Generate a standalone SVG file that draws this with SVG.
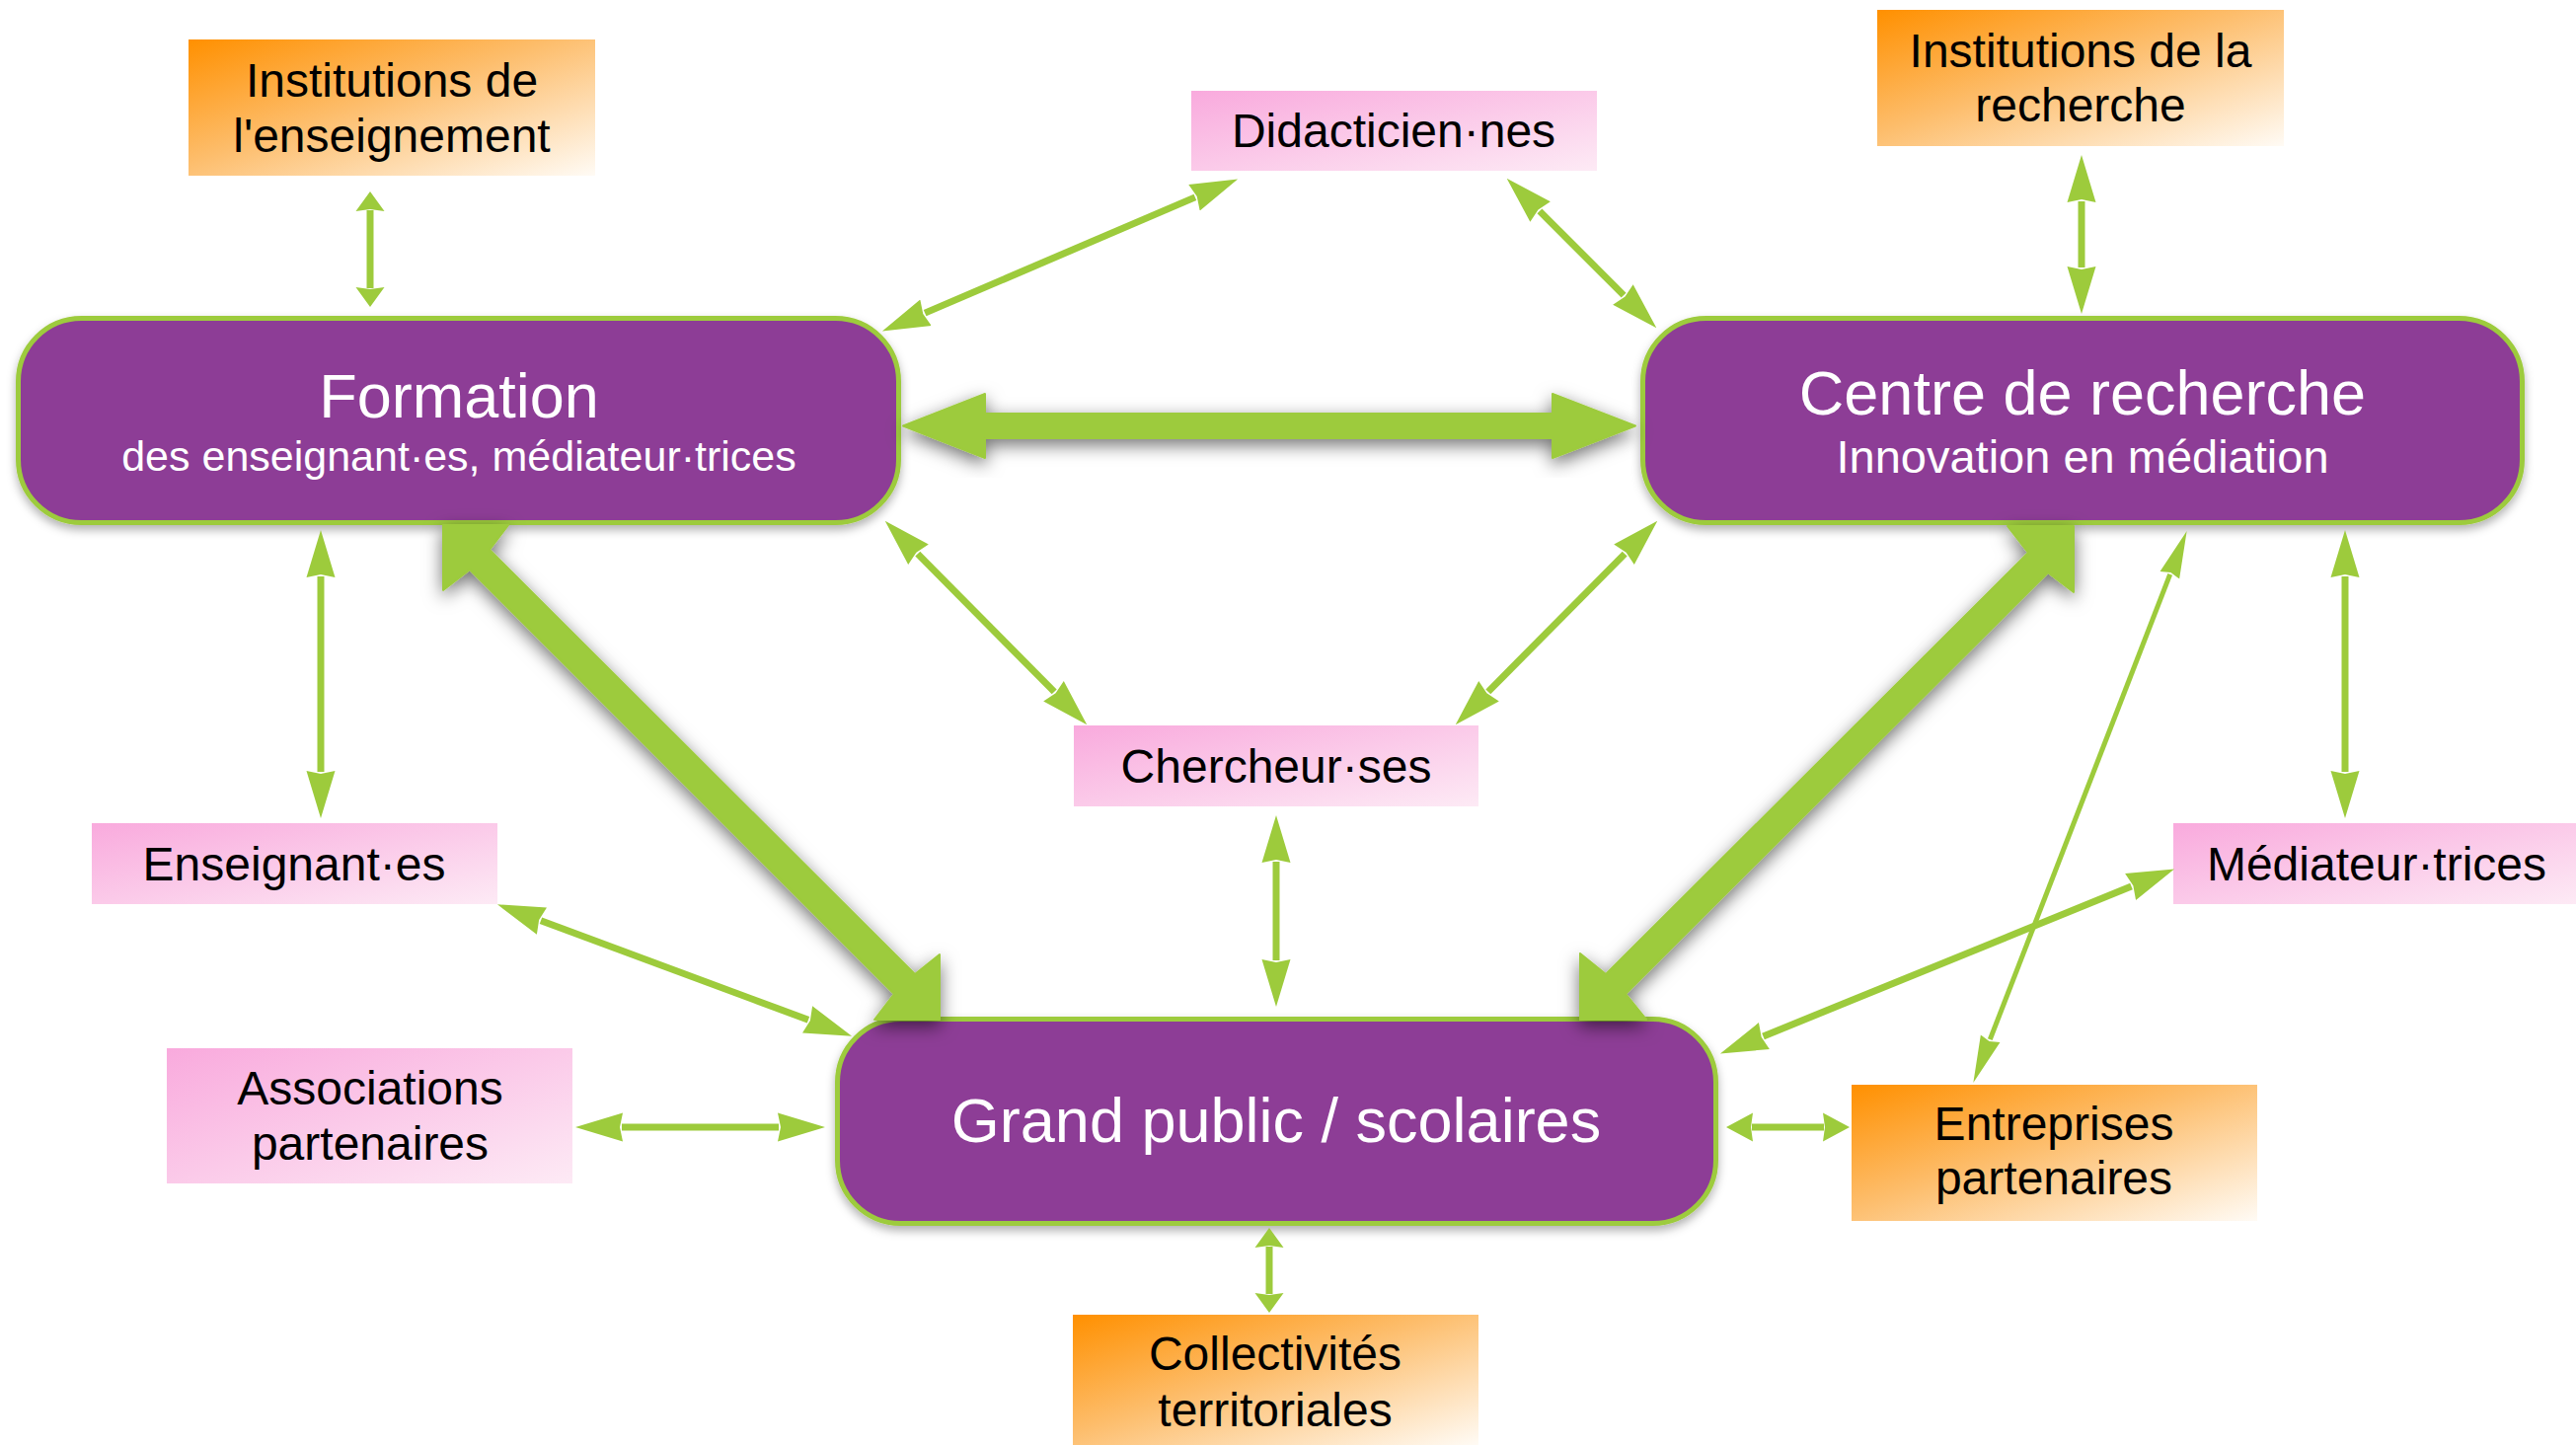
<svg xmlns="http://www.w3.org/2000/svg" width="2610" height="1464" viewBox="0 0 2610 1464">
<defs>
<style>
.lbl{font-family:"Liberation Sans",Arial,sans-serif;font-size:48px;fill:#000;text-anchor:middle}
.ttl{font-family:"Liberation Sans",Arial,sans-serif;font-size:63px;fill:#fff;text-anchor:middle}
.sub{font-family:"Liberation Sans",Arial,sans-serif;fill:#fff;text-anchor:middle}
.main{fill:#8D3D96;stroke:#9DCB3C;stroke-width:5;filter:url(#bs)}
.pink{fill:url(#gp)}
.orange{fill:url(#go)}
.thin{fill:none;stroke:#9DCB3C;stroke-width:7;marker-start:url(#ah);marker-end:url(#ah)}
.short{fill:none;stroke:#9DCB3C;stroke-width:7;marker-start:url(#as);marker-end:url(#as)}
.mid{fill:none;stroke:#9DCB3C;stroke-width:7;marker-start:url(#am);marker-end:url(#am)}
.fine{fill:none;stroke:#9DCB3C;stroke-width:5;marker-start:url(#af);marker-end:url(#af)}
.thick{fill:#9DCB3C;stroke:#9DCB3C;stroke-width:2;stroke-linejoin:round;filter:url(#ts)}
</style>
<linearGradient id="gp" x1="0" y1="0" x2="1" y2="1">
<stop offset="0" stop-color="#F9AADD"/>
<stop offset="1" stop-color="#FDEAF5"/>
</linearGradient>
<linearGradient id="go" x1="0" y1="0" x2="1" y2="1">
<stop offset="0" stop-color="#FF9000"/>
<stop offset="0.45" stop-color="#FDBD6B"/>
<stop offset="1" stop-color="#FFFBF5"/>
</linearGradient>
<filter id="bs" x="-10%" y="-20%" width="120%" height="150%">
<feDropShadow dx="0" dy="5" stdDeviation="5" flood-color="#000" flood-opacity="0.3"/>
</filter>
<filter id="ts" x="-30%" y="-30%" width="160%" height="160%">
<feGaussianBlur in="SourceAlpha" stdDeviation="9"/>
<feOffset dx="0" dy="6" result="b"/>
<feFlood flood-color="#000" flood-opacity="0.55"/>
<feComposite in2="b" operator="in"/>
<feMerge><feMergeNode/><feMergeNode in="SourceGraphic"/></feMerge>
</filter>
<marker id="ah" viewBox="0 0 48 30" refX="1" refY="15" markerWidth="48" markerHeight="30" orient="auto-start-reverse" markerUnits="userSpaceOnUse">
<path d="M0,0.5 L48,15 L0,29.5 L3,15 Z" fill="#9DCB3C"/>
</marker>
<marker id="as" viewBox="0 0 20 30" refX="1" refY="15" markerWidth="20" markerHeight="30" orient="auto-start-reverse" markerUnits="userSpaceOnUse">
<path d="M0,0.5 L20,15 L0,29.5 L2,15 Z" fill="#9DCB3C"/>
</marker>
<marker id="am" viewBox="0 0 27 30" refX="1" refY="15" markerWidth="27" markerHeight="30" orient="auto-start-reverse" markerUnits="userSpaceOnUse">
<path d="M0,0.5 L27,15 L0,29.5 L2,15 Z" fill="#9DCB3C"/>
</marker>
<marker id="af" viewBox="0 0 48 22" refX="1" refY="11" markerWidth="48" markerHeight="22" orient="auto-start-reverse" markerUnits="userSpaceOnUse">
<path d="M0,0.5 L48,11 L0,21.5 L3,11 Z" fill="#9DCB3C"/>
</marker>
</defs>
<rect width="2610" height="1464" fill="#fff"/>

<g id="inst-enseignement">
<rect class="orange" x="191" y="40" width="412" height="138"/>
<text class="lbl" x="397" y="98">Institutions de</text>
<text class="lbl" x="397" y="154">l'enseignement</text>
</g>
<g id="didacticiens">
<rect class="pink" x="1207" y="92" width="411" height="81"/>
<text class="lbl" x="1412" y="149">Didacticien·nes</text>
</g>
<g id="inst-recherche">
<rect class="orange" x="1902" y="10" width="412" height="138"/>
<text class="lbl" x="2108" y="68">Institutions de la</text>
<text class="lbl" x="2108" y="123">recherche</text>
</g>
<g id="formation">
<rect class="main" x="18.5" y="322.5" width="892" height="207" rx="64" ry="64"/>
<text class="ttl" x="465" y="423">Formation</text>
<text class="sub" x="465" y="477" font-size="43">des enseignant·es, médiateur·trices</text>
</g>
<g id="centre">
<rect class="main" x="1664.5" y="322.5" width="891" height="207" rx="64" ry="64"/>
<text class="ttl" x="2110" y="420">Centre de recherche</text>
<text class="sub" x="2110" y="479" font-size="47">Innovation en médiation</text>
</g>
<g id="chercheurs">
<rect class="pink" x="1088" y="735" width="410" height="82"/>
<text class="lbl" x="1293" y="793">Chercheur·ses</text>
</g>
<g id="enseignants">
<rect class="pink" x="93" y="834" width="411" height="82"/>
<text class="lbl" x="298" y="892">Enseignant·es</text>
</g>
<g id="mediateurs">
<rect class="pink" x="2202" y="834" width="410" height="82"/>
<text class="lbl" x="2408" y="892">Médiateur·trices</text>
</g>
<g id="associations">
<rect class="pink" x="169" y="1062" width="411" height="137"/>
<text class="lbl" x="375" y="1119">Associations</text>
<text class="lbl" x="375" y="1175">partenaires</text>
</g>
<g id="grand-public">
<rect class="main" x="848.5" y="1032.5" width="890" height="207" rx="64" ry="64"/>
<text class="ttl" x="1293" y="1157">Grand public / scolaires</text>
</g>
<g id="entreprises">
<rect class="orange" x="1876" y="1099" width="411" height="138"/>
<text class="lbl" x="2081" y="1155">Entreprises</text>
<text class="lbl" x="2081" y="1210">partenaires</text>
</g>
<g id="collectivites">
<rect class="orange" x="1087" y="1332" width="411" height="132"/>
<text class="lbl" x="1292" y="1388">Collectivités</text>
<text class="lbl" x="1292" y="1445">territoriales</text>
</g>

<g id="connectors">
<path class="short" d="M375,213 L375,292"/>
<path class="thin" d="M937.1,317.1 L1210.9,199.9"/>
<path class="thin" d="M1559.9,213.9 L1645.1,299.1"/>
<path class="thin" d="M2109,204 L2109,271"/>
<path class="thin" d="M929.8,561.1 L1068.2,700.9"/>
<path class="thin" d="M1646.2,561.1 L1507.8,700.9"/>
<path class="thin" d="M1293,873 L1293,973"/>
<path class="thin" d="M325,584 L325,782"/>
<path class="thin" d="M548,932.7 L819,1033.3"/>
<path class="thin" d="M630,1142 L789,1142"/>
<path class="short" d="M1286,1263 L1286,1311"/>
<path class="mid" d="M1775,1142 L1848,1142"/>
<path class="thin" d="M1786.5,1049.9 L2159.5,898.1"/>
<path class="thin" d="M2376,584 L2376,782"/>
<path class="fine" d="M2198.7,581.8 L2016.3,1053.2"/>
<polygon class="thick" points="915,431.5 998,399 998,419 1573,419 1573,399 1657,431.5 1573,464 1573,444 998,444 998,464"/>
<polygon class="thick" points="449,532 515,532 496,557 927,987 952,967 952,1033 886,1033 906,1007 476,577 449,598"/>
<polygon class="thick" points="2101,533 2034,533 2055,560 1627,987 1601,966 1601,1033 1668,1033 1647,1007 2075,580 2101,600"/>
</g>
</svg>
